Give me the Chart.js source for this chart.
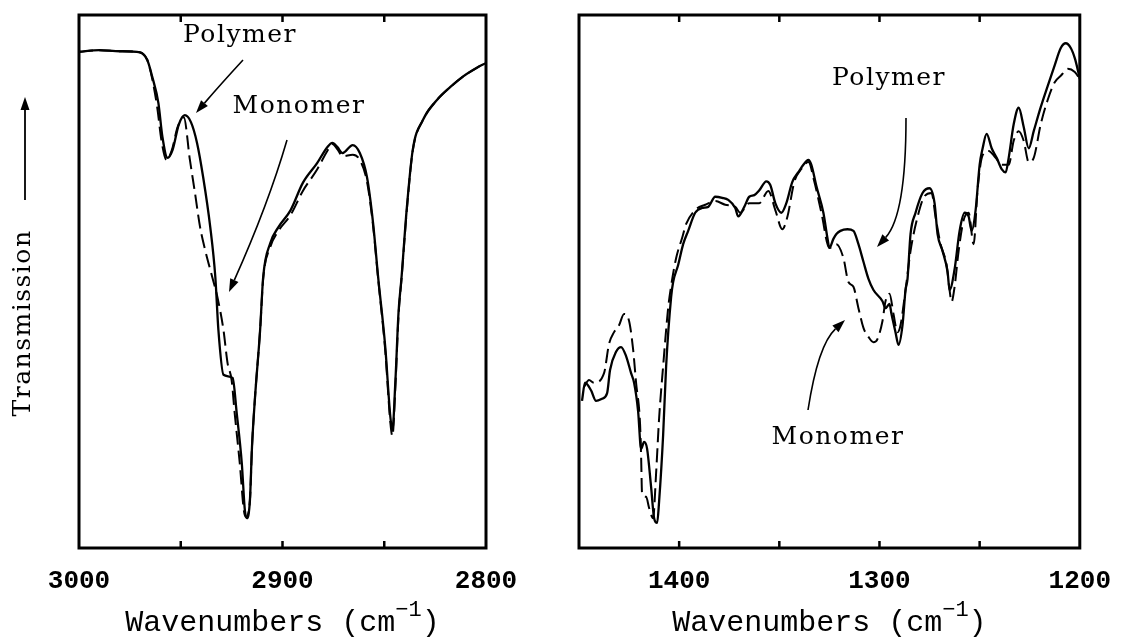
<!DOCTYPE html>
<html>
<head>
<meta charset="utf-8">
<script src="https://cdn.jsdelivr.net/npm/chart.js@4.4.1/dist/chart.umd.min.js"></script>
<style>
body { margin: 0; background: #fff; }
#wrapL { position: absolute; left: 0; top: 0; width: 540px; height: 639px; }
#wrapR { position: absolute; left: 540px; top: 0; width: 589px; height: 639px; }
</style>
</head>
<body>
<div id="wrapL"><canvas id="left" width="540" height="639"></canvas></div>
<div id="wrapR"><canvas id="right" width="589" height="639"></canvas></div>
<script>
// C-H stretching region (left panel)
var leftPolyWn = [3000, 2990, 2980, 2971.5, 2966.5, 2964, 2961, 2959, 2956.5, 2954, 2951, 2948, 2945, 2942, 2939, 2935.5, 2933, 2931.5, 2929, 2924.5, 2922.5, 2920, 2918.5, 2917.5, 2916, 2915, 2913.5, 2911, 2909.5, 2906, 2902, 2896, 2890, 2883, 2878, 2875.5, 2873, 2870.5, 2865.5, 2862, 2858.5, 2855.5, 2853, 2849.5, 2847, 2846, 2844.5, 2843, 2841.5, 2839, 2836, 2831, 2824, 2817.5, 2811.5, 2804.5, 2800];
var leftPolyT  = [93.1, 93.4, 93.2, 93.1, 91.6, 88.4, 83.5, 77.1, 73.2, 74.7, 79.4, 81.2, 79.9, 76.0, 69.6, 60.2, 50.8, 40.9, 32.5, 31.9, 25.3, 15.9, 7.1, 5.6, 9.0, 18.9, 28.3, 40.9, 50.8, 57.2, 60.2, 63.4, 68.5, 72.2, 75.2, 76.0, 75.2, 74.1, 75.6, 74.1, 69.6, 61.0, 50.8, 37.7, 24.6, 22.1, 31.5, 44.1, 50.8, 63.4, 74.7, 80.3, 84.1, 86.5, 88.4, 90.1, 91.0];

var leftMonoWn = [3000, 2990, 2980, 2971.5, 2966.5, 2964, 2961.5, 2959.5, 2957, 2954.5, 2951.5, 2948.5, 2945.5, 2943, 2940.5, 2938, 2934.5, 2932, 2929, 2927, 2925, 2923.5, 2921, 2919, 2918, 2916, 2915, 2913.5, 2911, 2909.5, 2906, 2902, 2896, 2890, 2883, 2878, 2875.5, 2873, 2870.5, 2865.5, 2862, 2858.5, 2855.5, 2853, 2849.5, 2847, 2846, 2844.5, 2843, 2841.5, 2839, 2836, 2831, 2824, 2817.5, 2811.5, 2804.5, 2800];
var leftMonoT  = [93.1, 93.4, 93.2, 93.1, 91.6, 88.0, 82.5, 76.5, 72.8, 74.5, 79.0, 80.8, 72.8, 66.6, 60.2, 55.9, 50.8, 47.1, 40.9, 34.7, 31.5, 25.3, 15.9, 7.1, 5.8, 9.0, 18.9, 28.3, 40.9, 50.5, 56.5, 59.5, 62.5, 67.0, 71.0, 74.5, 75.8, 74.8, 73.5, 73.8, 72.8, 68.8, 60.5, 50.5, 37.0, 23.5, 21.0, 30.5, 43.5, 50.5, 63.0, 74.5, 80.3, 84.1, 86.5, 88.4, 90.1, 91.0];

// fingerprint region (right panel)
var rightPolyWn = [1448.5, 1447, 1444, 1441.5, 1438.5, 1436, 1434.5, 1431.5, 1429, 1426.5, 1424, 1422.5, 1420.5, 1419, 1417.5, 1416, 1414, 1412.5, 1411, 1410, 1408, 1406.5, 1404, 1403, 1400.5, 1398, 1395.5, 1392, 1388.5, 1385.5, 1382, 1378.5, 1375.5, 1372, 1370.5, 1367.5, 1365, 1362.5, 1360, 1356.5, 1354.5, 1352, 1349, 1346.5, 1343.5, 1340.5, 1338, 1335.5, 1334, 1331.5, 1328, 1326, 1325, 1323, 1321.5, 1319.5, 1316, 1313, 1310.5, 1308, 1305.5, 1303, 1298.5, 1297, 1295, 1294, 1292, 1290.5, 1288.5, 1287, 1286, 1284.5, 1282, 1278.5, 1275, 1272.5, 1271, 1268.5, 1266, 1265, 1262.5, 1260, 1257.5, 1255.5, 1254, 1252, 1250, 1248.5, 1246.5, 1244, 1241.5, 1239, 1237, 1235.5, 1233, 1230.5, 1228, 1225.5, 1223, 1219.5, 1216, 1212.5, 1209.5, 1207, 1204.5, 1202.5, 1201, 1200];
var rightPolyT  = [27.6, 31.0, 29.6, 27.6, 28.0, 29.0, 33.4, 36.8, 37.7, 36.0, 32.8, 31.0, 25.7, 18.6, 19.9, 18.6, 11.4, 5.6, 4.7, 8.8, 21.2, 34.1, 47.1, 49.9, 53.1, 57.0, 59.5, 62.9, 63.8, 64.0, 65.9, 65.7, 65.3, 63.8, 62.2, 64.0, 65.9, 66.2, 67.1, 68.8, 68.1, 64.7, 62.9, 64.7, 68.7, 70.5, 71.9, 72.8, 71.9, 67.9, 62.9, 58.2, 56.3, 58.0, 58.9, 59.5, 59.8, 59.5, 57.0, 53.7, 50.5, 48.4, 46.3, 45.0, 45.8, 43.9, 40.5, 38.1, 41.8, 48.4, 50.5, 58.9, 62.9, 66.6, 67.5, 64.7, 58.9, 55.7, 51.8, 48.4, 52.3, 59.5, 62.9, 62.2, 59.5, 63.4, 71.9, 75.0, 77.7, 75.0, 73.2, 71.1, 70.5, 73.2, 79.5, 82.6, 79.0, 75.0, 78.2, 82.7, 86.7, 90.6, 93.8, 94.7, 93.8, 91.9, 89.7, 88.0];

var rightMonoWn = [1447.5, 1445, 1442.5, 1437.5, 1435, 1432.5, 1430, 1427.5, 1425, 1423, 1421.5, 1419.5, 1419, 1418.5, 1416.5, 1415, 1413, 1411.5, 1410, 1408, 1405.5, 1404, 1401.5, 1398.5, 1396.5, 1392, 1387, 1382, 1377, 1372, 1369.5, 1365, 1360, 1355.5, 1352, 1348.5, 1346, 1342.5, 1339, 1335.5, 1332.5, 1329, 1325, 1321.5, 1318, 1315.5, 1313, 1310.5, 1308, 1305.5, 1303, 1301, 1298.5, 1297, 1295, 1293, 1291, 1289.5, 1287, 1284.5, 1281, 1277.5, 1274, 1272, 1269.5, 1266.5, 1265, 1264, 1262.5, 1260.5, 1258, 1255.5, 1253, 1251, 1248.5, 1245.5, 1242, 1239, 1235.5, 1233, 1230.5, 1228, 1225.5, 1223, 1219.5, 1216, 1212.5, 1209.5, 1206, 1202.5, 1200];
var rightMonoT  = [30.2, 31.5, 31.0, 32.8, 38.3, 40.5, 41.8, 43.9, 42.6, 37.3, 31.0, 23.1, 17.3, 10.1, 9.6, 7.5, 5.6, 14.1, 24.4, 34.1, 45.0, 49.2, 54.4, 58.2, 60.8, 63.4, 64.4, 65.1, 64.4, 64.0, 62.9, 64.7, 64.7, 67.0, 63.4, 59.8, 62.1, 68.7, 71.1, 72.4, 68.7, 62.9, 56.3, 57.0, 54.4, 49.9, 49.0, 45.0, 41.3, 39.6, 38.6, 39.2, 42.6, 46.3, 47.7, 43.9, 40.5, 41.8, 48.4, 55.7, 62.1, 66.0, 66.6, 62.1, 57.0, 53.1, 48.4, 46.2, 49.0, 55.7, 61.5, 62.9, 57.0, 67.4, 73.7, 74.5, 73.2, 71.9, 71.9, 76.4, 78.2, 76.4, 72.4, 73.2, 79.5, 84.1, 87.4, 88.6, 89.9, 89.3, 88.0];

var xTitleMain = 'Wavenumbers (cm';
var xTitleSup = '\u22121';
var yTitle = 'Transmission';

function pts(xs, ys) {
  return xs.map(function(x, i) { return { x: x, y: ys[i] }; });
}

function drawArrow(ctx, p0, c, p1) {
  var head = 13, half = 4.5;
  var ang = Math.atan2(p1[1] - c[1], p1[0] - c[0]);
  var bx = p1[0] - head * Math.cos(ang), by = p1[1] - head * Math.sin(ang);
  ctx.beginPath();
  ctx.moveTo(p0[0], p0[1]);
  ctx.quadraticCurveTo(c[0], c[1], bx, by);
  ctx.stroke();
  ctx.beginPath();
  ctx.moveTo(p1[0], p1[1]);
  ctx.lineTo(bx + half * Math.sin(ang), by - half * Math.cos(ang));
  ctx.lineTo(bx - half * Math.sin(ang), by + half * Math.cos(ang));
  ctx.closePath();
  ctx.fill();
}

// box, inward ticks, titles and labels
function makeFrame(cfg) {
  return {
    id: 'frame',
    afterDraw: function(chart) {
      var ctx = chart.ctx, a = chart.chartArea, xs = chart.scales.x, off = cfg.offset;
      ctx.save();
      ctx.strokeStyle = '#000';
      ctx.fillStyle = '#000';
      ctx.lineWidth = 3;
      ctx.strokeRect(a.left, a.top, a.right - a.left, a.bottom - a.top);
      ctx.lineWidth = 2.5;
      xs.ticks.forEach(function(t) {
        if (t.value === xs.min || t.value === xs.max) return;
        var px = xs.getPixelForValue(t.value);
        ctx.beginPath();
        ctx.moveTo(px, a.top); ctx.lineTo(px, a.top + 7);
        ctx.moveTo(px, a.bottom); ctx.lineTo(px, a.bottom - 7);
        ctx.stroke();
      });

      // x title with superscript
      ctx.textBaseline = 'alphabetic';
      ctx.textAlign = 'left';
      ctx.font = '30px "Liberation Mono"';
      var w1 = ctx.measureText(xTitleMain).width, w3 = ctx.measureText(')').width;
      ctx.font = '22px "Liberation Mono"';
      var w2 = ctx.measureText(xTitleSup).width;
      var cx = (a.left + a.right) / 2, x0 = cx - (w1 + w2 + w3) / 2, base = 631;
      ctx.font = '30px "Liberation Mono"';
      ctx.fillText(xTitleMain, x0, base);
      ctx.fillText(')', x0 + w1 + w2, base);
      ctx.font = '22px "Liberation Mono"';
      ctx.fillText(xTitleSup, x0 + w1, base - 15);

      // labels and arrows
      ctx.font = '25px "DejaVu Serif"';
      ctx.letterSpacing = '1.5px';
      ctx.textAlign = 'center';
      ctx.textBaseline = 'middle';
      cfg.notes.forEach(function(n) { ctx.fillText(n.text, n.x - off, n.y); });
      ctx.lineWidth = 1.6;
      cfg.arrows.forEach(function(r) {
        drawArrow(ctx, [r.from[0] - off, r.from[1]], [r.ctrl[0] - off, r.ctrl[1]], [r.to[0] - off, r.to[1]]);
      });

      if (cfg.yLabel) {
        ctx.save();
        ctx.translate(23, 323);
        ctx.rotate(-Math.PI / 2);
        ctx.fillText(yTitle, 0, 0);
        ctx.restore();
        ctx.lineWidth = 1.8;
        drawArrow(ctx, [25, 200], [25, 150], [25, 97]);
      }
      ctx.restore();
    }
  };
}

function buildChart(id, sets, xmin, xmax, pad, frameCfg) {
  return new Chart(document.getElementById(id), {
    type: 'line',
    data: {
      datasets: [{
        label: 'Polymer',
        data: pts(sets[0], sets[1]),
        borderColor: '#000',
        borderWidth: 2.3,
        pointRadius: 0,
        fill: false,
        cubicInterpolationMode: 'monotone'
      }, {
        label: 'Monomer',
        data: pts(sets[2], sets[3]),
        borderColor: '#000',
        borderWidth: 2,
        borderDash: [14, 6],
        pointRadius: 0,
        fill: false,
        cubicInterpolationMode: 'monotone'
      }]
    },
    options: {
      responsive: false,
      animation: false,
      layout: { padding: pad },
      plugins: { legend: { display: false }, tooltip: { enabled: false } },
      scales: {
        x: {
          type: 'linear',
          min: xmin,
          max: xmax,
          reverse: true,
          grid: { display: false, drawTicks: false },
          border: { display: false },
          ticks: {
            stepSize: 50,
            autoSkip: false,
            maxRotation: 0,
            padding: 18,
            color: '#000',
            font: { family: 'Liberation Mono', size: 26, weight: 'bold' },
            callback: function(v) { return v % 100 === 0 ? String(v) : ''; }
          },
          afterFit: function(scale) { scale.height = 91; }
        },
        y: { display: false, min: 0, max: 100 }
      }
    },
    plugins: [makeFrame(frameCfg)]
  });
}

buildChart('left', [leftPolyWn, leftPolyT, leftMonoWn, leftMonoT], 2800, 3000,
  { left: 79, right: 54, top: 15, bottom: 0 },
  {
    offset: 0,
    yLabel: true,
    notes: [{ text: 'Polymer', x: 240, y: 35 }, { text: 'Monomer', x: 299, y: 106 }],
    arrows: [
      { from: [243, 60], ctrl: [220, 85], to: [196, 113] },
      { from: [287, 140], ctrl: [268, 205], to: [229, 292] }
    ]
  });

buildChart('right', [rightPolyWn, rightPolyT, rightMonoWn, rightMonoT], 1200, 1450,
  { left: 39, right: 38, top: 15, bottom: 0 },
  {
    offset: 540,
    yLabel: false,
    notes: [{ text: 'Polymer', x: 889, y: 78 }, { text: 'Monomer', x: 838, y: 437 }],
    arrows: [
      { from: [906, 118], ctrl: [906, 215], to: [877, 247] },
      { from: [808, 410], ctrl: [818, 345], to: [845, 320] }
    ]
  });
</script>
</body>
</html>
